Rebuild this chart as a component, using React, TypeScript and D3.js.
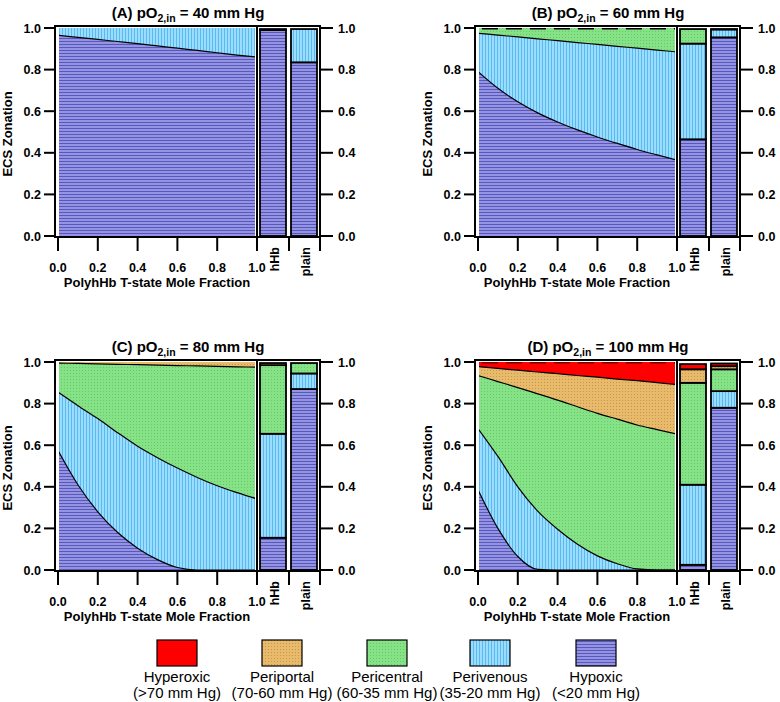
import React from "react";
import * as d3 from "d3";

const moleFraction = [0, 0.1, 0.2, 0.3, 0.4, 0.5, 0.6, 0.7, 0.8, 0.9, 1.0];
const zoneNames = ["Hypoxic", "Perivenous", "Pericentral", "Periportal", "Hyperoxic"];
const zoneRanges = ["(<20 mm Hg)", "(35-20 mm Hg)", "(60-35 mm Hg)", "(70-60 mm Hg)", "(>70 mm Hg)"];
const panelLetters = ["(A)", "(B)", "(C)", "(D)"];
const inletPO2 = [40, 60, 80, 100];
const yTicks = [0, 0.2, 0.4, 0.6, 0.8, 1.0];
const xTicks = [0, 0.2, 0.4, 0.6, 0.8, 1.0];
const barLabels = ["hHb", "plain"];

// Upper (cumulative) boundary of each zone, read along moleFraction
const aHypoxicTop = [0.965, 0.955, 0.945, 0.935, 0.925, 0.914, 0.903, 0.892, 0.881, 0.87, 0.86];
const aPerivenousTop = [1, 1, 1, 1, 1, 1, 1, 1, 1, 1, 1];

const bHypoxicTop = [0.79, 0.71, 0.645, 0.592, 0.548, 0.51, 0.476, 0.445, 0.416, 0.39, 0.365];
const bPerivenousTop = [0.975, 0.966, 0.957, 0.948, 0.939, 0.93, 0.921, 0.912, 0.903, 0.894, 0.885];
const bPericentralTop = [1, 1, 1, 1, 1, 1, 1, 1, 1, 1, 1];

const cHypoxicTop = [0.575, 0.41, 0.28, 0.18, 0.105, 0.05, 0.012, 0, 0, 0, 0];
const cPerivenousTop = [0.855, 0.79, 0.728, 0.66, 0.595, 0.54, 0.49, 0.445, 0.405, 0.372, 0.342];
const cPericentralTop = [0.995, 0.993, 0.991, 0.989, 0.987, 0.985, 0.983, 0.981, 0.979, 0.977, 0.975];
const cPeriportalTop = [1, 1, 1, 1, 1, 1, 1, 1, 1, 1, 1];

const dHypoxicTop = [0.385, 0.2, 0.065, 0.003, 0, 0, 0, 0, 0, 0, 0];
const dPerivenousTop = [0.68, 0.546, 0.4, 0.283, 0.196, 0.124, 0.068, 0.03, 0.005, 0, 0];
const dPericentralTop = [0.935, 0.906, 0.877, 0.847, 0.817, 0.785, 0.753, 0.725, 0.697, 0.675, 0.653];
const dPeriportalTop = [0.978, 0.969, 0.961, 0.952, 0.944, 0.935, 0.927, 0.918, 0.91, 0.901, 0.892];
const dHyperoxicTop = [1, 1, 1, 1, 1, 1, 1, 1, 1, 1, 1];

// Bars: cumulative tops of zones (hypoxic upward)
const aHhb = [0.99, 0.995];
const aPlain = [0.835, 0.995];
const bHhb = [0.465, 0.925, 0.995];
const bPlain = [0.955, 0.993, 0.995];
const cHhb = [0.155, 0.655, 0.985, 0.995];
const cPlain = [0.87, 0.945, 0.995, 0.995];
const dHhb = [0.025, 0.41, 0.9, 0.965, 0.99];
const dPlain = [0.78, 0.86, 0.965, 0.98, 0.993];

const patternIds = ["pHypoxic", "pPerivenous", "pPericentral", "pPeriportal", "pHyperoxic"];

const panels = [
  { bounds: [aHypoxicTop, aPerivenousTop], hhb: aHhb, plain: aPlain, ox: 0, oy: 0, topDash: "" },
  { bounds: [bHypoxicTop, bPerivenousTop, bPericentralTop], hhb: bHhb, plain: bPlain, ox: 420, oy: 0, topDash: "#000" },
  { bounds: [cHypoxicTop, cPerivenousTop, cPericentralTop, cPeriportalTop], hhb: cHhb, plain: cPlain, ox: 0, oy: 334, topDash: "" },
  { bounds: [dHypoxicTop, dPerivenousTop, dPericentralTop, dPeriportalTop, dHyperoxicTop], hhb: dHhb, plain: dPlain, ox: 420, oy: 334, topDash: "#7a0000" },
];

const FONT = "'Liberation Sans', Arial, Helvetica, sans-serif";

function Panel({ p, idx }: { p: any; idx: number }) {
  const { ox, oy } = p;
  const xs = d3.scaleLinear().domain([0, 1]).range([58 + ox, 257 + ox]);
  const ys = d3.scaleLinear().domain([0, 1]).range([236 + oy, 28 + oy]);
  const curve = d3.curveMonotoneX;
  const clipId = `clip${idx}`;
  const bounds: number[][] = p.bounds;
  const zero = moleFraction.map(() => 0);

  const areas = bounds.map((top, zi) => {
    const lower = zi === 0 ? zero : bounds[zi - 1];
    const gen = d3
      .area<number>()
      .x((_, i) => xs(moleFraction[i]))
      .y0((_, i) => ys(lower[i]))
      .y1((d) => ys(d))
      .curve(curve);
    return <path key={zi} d={gen(top) || ""} fill={`url(#${patternIds[zi]})`} />;
  });
  const lineGen = d3
    .line<number>()
    .x((_, i) => xs(moleFraction[i]))
    .y((d) => ys(d))
    .curve(curve);
  const lines = bounds.slice(0, bounds.length - 1).map((top, zi) => (
    <path key={zi} d={lineGen(top) || ""} fill="none" stroke="#000" strokeWidth={1.2} />
  ));

  const barX = [260 + ox, 291 + ox];
  const barW = 26;
  const bars = [p.hhb, p.plain].map((tops: number[], bi: number) =>
    tops.map((t, zi) => {
      const lo = zi === 0 ? 0 : tops[zi - 1];
      return (
        <rect
          key={`${bi}-${zi}`}
          x={barX[bi]}
          y={ys(t)}
          width={barW}
          height={Math.max(0, ys(lo) - ys(t))}
          fill={`url(#${patternIds[zi]})`}
          stroke="#000"
          strokeWidth={1.8}
        />
      );
    })
  );

  const left = 55 + ox;
  const right = 320 + ox;
  const top = 26 + oy;
  const bottom = 237 + oy;
  const sepTicks = [257 + ox, 289 + ox, 320 + ox];

  return (
    <g>
      <defs>
        <clipPath id={clipId}>
          <rect x={59 + ox} y={ys(1)} width={196} height={ys(0) - ys(1)} />
        </clipPath>
      </defs>
      <g clipPath={`url(#${clipId})`}>
        {areas}
        {lines}
        {p.topDash ? (
          <line
            x1={xs(0.02)}
            x2={xs(1)}
            y1={ys(1) + 0.8}
            y2={ys(1) + 0.8}
            stroke={p.topDash}
            strokeWidth={1.6}
            strokeDasharray="16,8"
          />
        ) : null}
      </g>
      {bars}
      <rect x={left} y={top} width={right - left} height={bottom - top} fill="none" stroke="#000" strokeWidth={2} />
      <line x1={257 + ox} x2={257 + ox} y1={top} y2={bottom} stroke="#000" strokeWidth={2} />
      {yTicks.map((t) => (
        <g key={`y${t}`}>
          <line x1={44 + ox} x2={left} y1={ys(t)} y2={ys(t)} stroke="#000" strokeWidth={2} />
          <line x1={right} x2={333 + ox} y1={ys(t)} y2={ys(t)} stroke="#000" strokeWidth={2} />
          <text x={41 + ox} y={ys(t)} dy="0.36em" textAnchor="end" fontSize={12.5} fontWeight="bold">
            {t.toFixed(1)}
          </text>
          <text x={338 + ox} y={ys(t)} dy="0.36em" textAnchor="start" fontSize={12.5} fontWeight="bold">
            {t.toFixed(1)}
          </text>
        </g>
      ))}
      {xTicks.map((t) => (
        <g key={`x${t}`}>
          <line x1={xs(t)} x2={xs(t)} y1={bottom} y2={251 + oy} stroke="#000" strokeWidth={2} />
          <text x={xs(t)} y={272 + oy} textAnchor="middle" fontSize={12.5} fontWeight="bold">
            {t.toFixed(1)}
          </text>
        </g>
      ))}
      {sepTicks.map((sx) => (
        <line key={`s${sx}`} x1={sx} x2={sx} y1={bottom} y2={251 + oy} stroke="#000" strokeWidth={2} />
      ))}
      {barLabels.map((b, bi) => (
        <text
          key={b}
          transform={`translate(${(bi === 0 ? 274 : 305) + ox},${247 + oy}) rotate(-90)`}
          dy="0.36em"
          textAnchor="end"
          fontSize={12.5}
          fontWeight="bold"
        >
          {b}
        </text>
      ))}
      <text x={157 + ox} y={287 + oy} textAnchor="middle" fontSize={13} fontWeight="bold">
        PolyhHb T-state Mole Fraction
      </text>
      <text transform={`translate(${12 + ox},${134 + oy}) rotate(-90)`} textAnchor="middle" fontSize={13} fontWeight="bold">
        ECS Zonation
      </text>
      <text x={188 + ox} y={18 + oy} textAnchor="middle" fontSize={15} fontWeight="bold">
        <tspan>{`${panelLetters[idx]} pO`}</tspan>
        <tspan fontSize={10.5} dy={4}>2,in</tspan>
        <tspan dy={-4}>{` = ${inletPO2[idx]} mm Hg`}</tspan>
      </text>
    </g>
  );
}

export default function App() {
  const legendCx = [177, 282, 387, 490, 596];
  const legendOrder = [4, 3, 2, 1, 0];
  return (
    <svg
      width={780}
      height={702}
      viewBox="0 0 780 702"
      style={{ position: "absolute", left: 0, top: 0, background: "#fff" }}
      fontFamily={FONT}
    >
      <defs>
        <pattern id="pHypoxic" patternUnits="userSpaceOnUse" width={4} height={3}>
          <rect width={4} height={3} fill="#9494e2" />
          <rect y={2} width={4} height={1} fill="#5757bc" />
        </pattern>
        <pattern id="pPerivenous" patternUnits="userSpaceOnUse" width={3} height={4}>
          <rect width={3} height={4} fill="#9cdcff" />
          <rect x={2} width={1} height={4} fill="#58bbf0" />
        </pattern>
        <pattern id="pPericentral" patternUnits="userSpaceOnUse" width={3} height={3}>
          <rect width={3} height={3} fill="#86e286" />
          <rect x={1} y={1} width={1} height={1} fill="#66c866" />
        </pattern>
        <pattern id="pPeriportal" patternUnits="userSpaceOnUse" width={3} height={3}>
          <rect width={3} height={3} fill="#e8bb6c" />
          <rect x={1} y={1} width={1} height={1} fill="#c89646" />
        </pattern>
        <pattern id="pHyperoxic" patternUnits="userSpaceOnUse" width={3} height={3}>
          <rect width={3} height={3} fill="#ff0000" />
        </pattern>
      </defs>
      <rect width={780} height={702} fill="#fff" />
      {panels.map((p, i) => (
        <Panel key={i} p={p} idx={i} />
      ))}
      {legendOrder.map((zi, k) => (
        <g key={zi}>
          <rect
            x={legendCx[k] - 20}
            y={640}
            width={40}
            height={26}
            fill={`url(#${patternIds[zi]})`}
            stroke="#000"
            strokeWidth={1.2}
          />
          <text x={legendCx[k]} y={682} textAnchor="middle" fontSize={15}>
            {zoneNames[zi]}
          </text>
          <text x={legendCx[k]} y={698} textAnchor="middle" fontSize={15}>
            {zoneRanges[zi]}
          </text>
        </g>
      ))}
    </svg>
  );
}
